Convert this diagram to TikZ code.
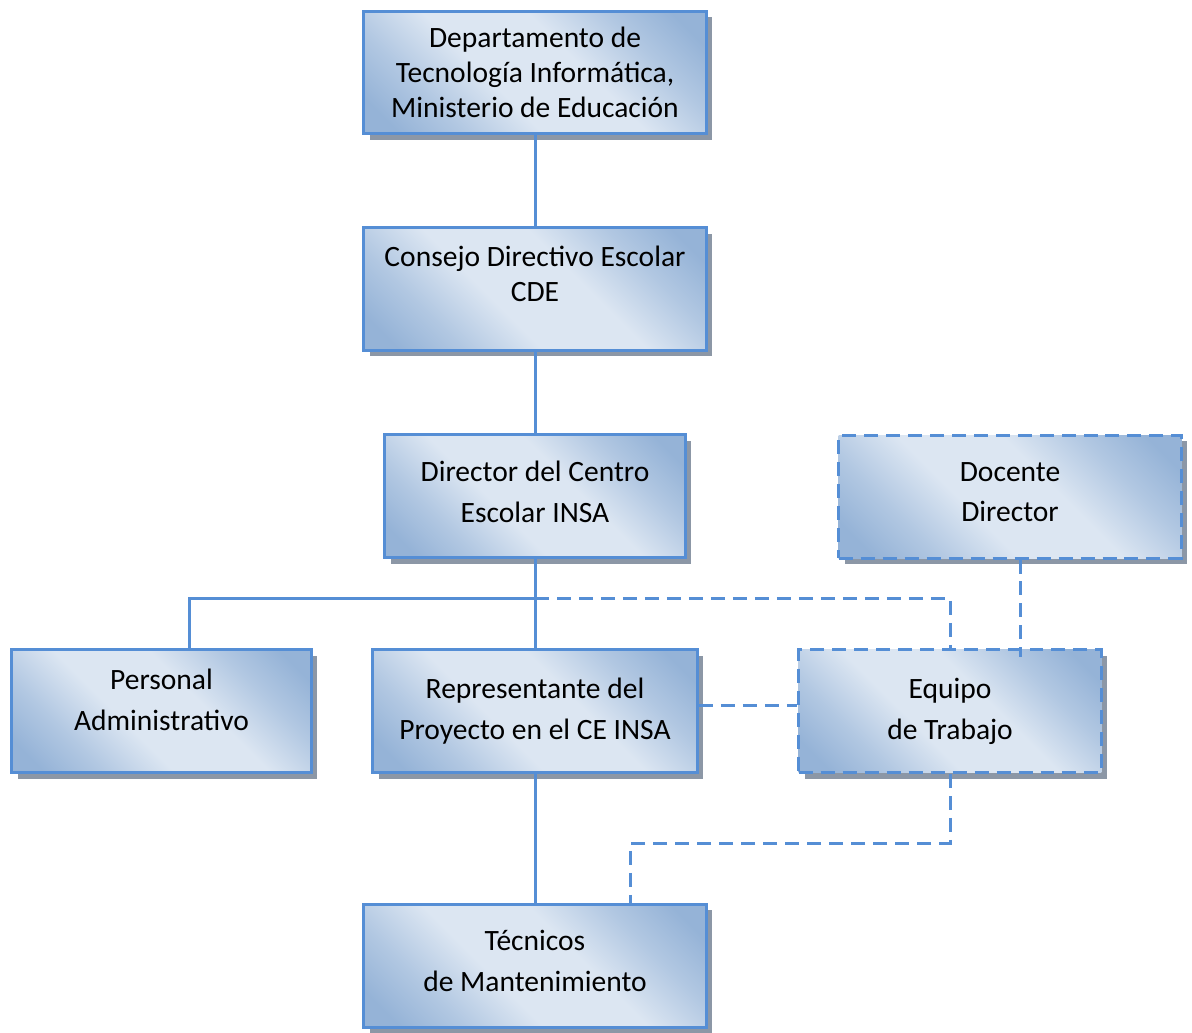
\documentclass[tikz,border=0pt]{standalone}
\usepackage{fontspec}
\setmainfont{Carlito}
\usetikzlibrary{calc,shadows}
\tikzset{
  org-box/.style={
    rectangle,
    line width=0.06cm,
    draw=orgline,
    shading=orgfill,
    shading angle=45,
    align=center,
    minimum height=2.46cm,
    font=\fontsize{16.8}{23.3}\selectfont,
    drop shadow={shadow xshift=0.12cm, shadow yshift=-0.12cm, fill=orgshadow, opacity=1}
  },
  org-box-dashed/.style={
    org-box,
    dash pattern=on 0.28cm off 0.16cm
  },
  org-tight/.style={font=\fontsize{16.8}{20}\selectfont},
  link/.style={line width=0.06cm, draw=orgline},
  link-dashed/.style={link, dash pattern=on 0.28cm off 0.16cm}
}
\definecolor{orgline}{RGB}{85,142,213}
\definecolor{orglight}{RGB}{220,230,242}
\definecolor{orgdark}{RGB}{149,179,215}
\definecolor{orgshadow}{RGB}{140,151,166}
\pgfdeclarehorizontalshading{orgfill}{100bp}{
  color(0bp)=(orgdark); color(20bp)=(orgdark);
  color(30bp)=(orgdark!60!orglight); color(42bp)=(orglight);
  color(58bp)=(orglight); color(70bp)=(orgdark!60!orglight);
  color(80bp)=(orgdark); color(100bp)=(orgdark)}

\begin{document}
\begin{tikzpicture}[x=0.02cm, y=-0.02cm]
  \useasboundingbox (0,0) rectangle (1192,1032);
  % Chain of command
  \node[org-box, org-tight, minimum width=6.86cm] (dept) at (535,72.5)
    {Departamento de\\Tecnología Informática,\\Ministerio de Educación};
  \node[org-box, org-tight, minimum width=6.86cm, text depth=0.6cm] (cde) at (535,289)
    {Consejo Directivo Escolar\\CDE};
  \node[org-box, minimum width=6.02cm, text depth=0.18cm] (dir) at (535,496)
    {Director del Centro\\Escolar INSA};
  \node[org-box-dashed, minimum width=6.86cm, text depth=0.18cm] (doc) at (1010,496.5)
    {Docente\\Director};
  % Second level
  \node[org-box, minimum width=6.0cm, text depth=0.46cm] (pers) at (161.5,711)
    {Personal\\Administrativo};
  \node[org-box, minimum width=6.5cm] (rep) at (535,711)
    {Representante del\\Proyecto en el CE INSA};
  \node[org-box-dashed, minimum width=6.06cm] (equipo) at (950,711)
    {Equipo\\de Trabajo};
  \node[org-box, minimum width=6.86cm, text depth=0.18cm] (tec) at (535,965.5)
    {Técnicos\\de Mantenimiento};
  % Connectors
  \coordinate (split) at (535,598);
  \draw[link] (dept) -- (cde);
  \draw[link] (cde) -- (dir);
  \draw[link] (dir) -- (rep);
  \draw[link] (split) -| ([xshift=0.57cm]pers.north);
  \draw[link] (rep) -- (tec);
  \draw[link-dashed] (split) -| (equipo.north);
  \draw[link-dashed] ([xshift=0.2cm]doc.south) coordinate (doc-foot)
    -- ($(doc-foot |- equipo.north)+(0,9)$);
  \draw[link-dashed] ([yshift=0.12cm]rep.east) -- ([yshift=0.12cm]equipo.west);
  \draw[link-dashed] (equipo.south) -- ++(0,69) -| ([xshift=1.92cm]tec.north);
\end{tikzpicture}
\end{document}
